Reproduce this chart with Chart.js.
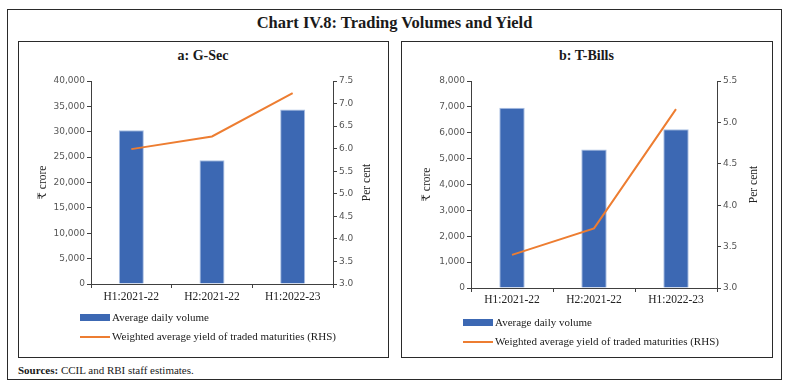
<!DOCTYPE html>
<html lang="en">
<head>
<meta charset="UTF-8" />
<title>Chart IV.8: Trading Volumes and Yield</title>
<script src="https://cdn.jsdelivr.net/npm/chart.js@4.4.1/dist/chart.umd.min.js"></script>
<style>
  body { margin: 0; background: #fff; width: 789px; height: 389px; position: relative; overflow: hidden;
         font-family: "Liberation Serif", "DejaVu Serif", serif; color: #1a1a1a; }
  .frame { position: absolute; left: 7px; top: 9px; width: 775px; height: 371px; border: 1.5px solid #2a2a2a; box-sizing: border-box; }
  .title { position: absolute; left: 0; width: 789px; top: 13px; text-align: center; font-weight: bold; font-size: 16.5px; }
  .panel { position: absolute; top: 41px; height: 317px; border: 1.5px solid #2a2a2a; box-sizing: border-box; }
  .ptitle { position: absolute; top: 48px; text-align: center; font-weight: bold; font-size: 14px; }
  .box { position: absolute; }
  .legend { position: absolute; font-size: 11px; }
  .legend div { position: relative; height: 19px; line-height: 19px; padding-left: 32px; white-space: nowrap; }
  .legend span { position: absolute; left: 0; width: 30px; }
  .sources { position: absolute; left: 18px; top: 364px; font-size: 11px; }
</style>
</head>
<body>
<div class="frame"></div>
<div class="title">Chart IV.8: Trading Volumes and Yield</div>
<div class="panel" style="left:18px;width:371px"></div>
<div class="panel" style="left:401px;width:372px"></div>
<div class="ptitle" style="left:18px;width:370px">a: G-Sec</div>
<div class="ptitle" style="left:401px;width:371px">b: T-Bills</div>
<div class="box" style="left:18px;top:65px;width:370px;height:245px"><canvas id="gsec"></canvas></div>
<div class="box" style="left:401px;top:65px;width:371px;height:245px"><canvas id="tbills"></canvas></div>
<div class="legend" id="legA" style="left:80px;top:308px"></div>
<div class="legend" id="legB" style="left:463px;top:313px"></div>
<div class="sources"><b>Sources:</b> CCIL and RBI staff estimates.</div>
<script>
const periods = ['H1:2021-22', 'H2:2021-22', 'H1:2022-23']
const seriesLabels = ['Average daily volume', 'Weighted average yield of traded maturities (RHS)']

// G-Sec: volume in ₹ crore, yield in per cent
const gsecVolume = [30300, 24400, 34400]
const gsecYield = [5.99, 6.27, 7.23]

// T-Bills
const tbillVolume = [6970, 5350, 6140]
const tbillYield = [3.40, 3.72, 5.16]

const barBlue = '#3c68b3'
const lineOrange = '#ed7d31'
const axisGrey = '#404040'
const tickFont = { family: '"DejaVu Sans", sans-serif', size: 9 }

const axisTitles = {
  id: 'axisTitles',
  afterDraw(chart, args, opts) {
    const { ctx, chartArea } = chart
    const mid = (chartArea.top + chartArea.bottom) / 2
    ctx.save()
    ctx.fillStyle = '#222'
    ctx.font = '11.5px "Liberation Serif", "DejaVu Serif", serif'
    ctx.textAlign = 'center'
    ctx.textBaseline = 'middle'
    for (const [x, text] of [[opts.leftX, '₹ crore'], [opts.rightX, 'Per cent']]) {
      ctx.save()
      ctx.translate(x, mid)
      ctx.rotate(-Math.PI / 2)
      ctx.fillText(text, 0, 0)
      ctx.restore()
    }
    ctx.restore()
  },
}

function makeChart(id, vol, yld, g) {
  return new Chart(document.getElementById(id), {
    data: {
      labels: periods,
      datasets: [
        {
          type: 'line', label: seriesLabels[1], data: yld, yAxisID: 'y1',
          borderColor: lineOrange, borderWidth: 2, pointRadius: 0, tension: 0, order: 0,
        },
        {
          type: 'bar', label: seriesLabels[0], data: vol, yAxisID: 'y',
          backgroundColor: barBlue, borderColor: '#a9bfe3', borderWidth: 1,
          barPercentage: 0.62, categoryPercentage: 0.5, order: 1,
        },
      ],
    },
    options: {
      responsive: true,
      maintainAspectRatio: false,
      animation: false,
      layout: { padding: { top: 16, left: 0, right: 0, bottom: 0 } },
      plugins: {
        legend: { display: false },
        tooltip: { enabled: false },
        axisTitles: { leftX: g.titleL, rightX: g.titleR },
      },
      scales: {
        x: {
          offset: true,
          grid: { drawOnChartArea: false, drawTicks: true, tickLength: 4, color: axisGrey, offset: true },
          border: { color: axisGrey, width: 1 },
          ticks: { color: '#222', padding: g.xPad, maxRotation: 0, font: { family: '"Liberation Serif", serif', size: 11.5 } },
          afterFit: (s) => { s.height = g.xHeight },
        },
        y: {
          position: 'left',
          min: 0, max: g.yMax,
          ticks: { stepSize: g.yStep, color: '#555', padding: 2, font: tickFont,
                   callback: (v) => v.toLocaleString('en-US') },
          grid: { drawOnChartArea: false, tickLength: 4, color: axisGrey },
          border: { color: axisGrey, width: 1 },
          afterFit: (s) => { s.width = g.left },
        },
        y1: {
          position: 'right',
          min: 3, max: g.y1Max,
          ticks: { stepSize: 0.5, color: '#555', padding: 2, font: tickFont,
                   callback: (v) => v.toFixed(1) },
          grid: { drawOnChartArea: false, tickLength: 4, color: axisGrey },
          border: { color: axisGrey, width: 1 },
          afterFit: (s) => { s.width = g.right },
        },
      },
    },
    plugins: [axisTitles],
  })
}

function legend(el) {
  const box = document.getElementById(el)
  box.innerHTML =
    `<div><span style="top:6px;height:7px;background:${barBlue}"></span>${seriesLabels[0]}</div>` +
    `<div><span style="top:9px;height:2px;background:${lineOrange}"></span>${seriesLabels[1]}</div>`
}

makeChart('gsec', gsecVolume, gsecYield, { left: 73, right: 55, xHeight: 26, xPad: 2, yMax: 40000, yStep: 5000, y1Max: 7.5, titleL: 25, titleR: 349 })
makeChart('tbills', tbillVolume, tbillYield, { left: 70, right: 55, xHeight: 22, xPad: 1, yMax: 8000, yStep: 1000, y1Max: 5.5, titleL: 26, titleR: 353 })
legend('legA')
legend('legB')
</script>
</body>
</html>
